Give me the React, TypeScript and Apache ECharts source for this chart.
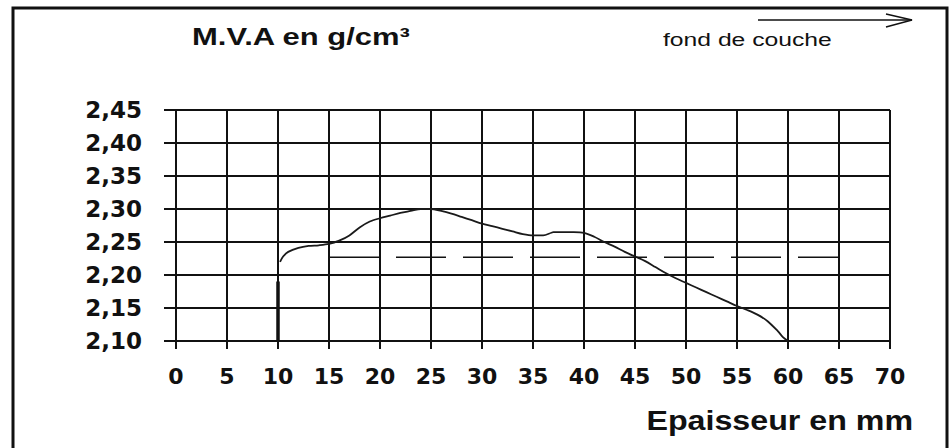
import React, { useEffect, useRef } from "react";
import * as echarts from "echarts";

// Épaisseur (mm) and M.V.A (g/cm3)
const depthMm = [10.2, 10.5, 11, 12, 13, 14, 15, 16, 17, 18, 19, 20, 21, 22, 23, 24, 25, 26, 27, 28, 29, 30, 31, 32, 33, 34, 35, 36, 36.8, 37, 38, 39, 40, 41, 42, 43, 44, 45, 46, 47, 48, 49, 50, 51, 52, 53, 54, 55, 56, 57, 58, 59, 59.5, 60];
const mva = [2.220, 2.228, 2.235, 2.241, 2.244, 2.245, 2.247, 2.252, 2.260, 2.272, 2.281, 2.286, 2.290, 2.294, 2.297, 2.300, 2.300, 2.297, 2.293, 2.288, 2.283, 2.278, 2.274, 2.270, 2.266, 2.262, 2.260, 2.260, 2.264, 2.265, 2.265, 2.265, 2.264, 2.258, 2.250, 2.243, 2.235, 2.228, 2.221, 2.212, 2.203, 2.195, 2.188, 2.181, 2.174, 2.167, 2.160, 2.153, 2.147, 2.140, 2.130, 2.115, 2.106, 2.100];

// vertical start segment at 10 mm
const startX = [10, 10];
const startY = [2.10, 2.19];

// dashed reference level
const refX = [15, 65];
const refY = [2.227, 2.227];

const xMin = 0, xMax = 70, xStep = 5;
const yMin = 2.10, yMax = 2.45, yStep = 0.05;

const titleText = "M.V.A en g/cm³";
const topRightText = "fond de couche";
const xAxisTitle = "Epaisseur en mm";

export default function App() {
  const ref = useRef<HTMLDivElement>(null);
  useEffect(() => {
    if (!ref.current) return;
    const chart = echarts.init(ref.current, null, { renderer: "svg" });
    const ink = "#111";
    chart.setOption({
      animation: false,
      backgroundColor: "#fff",
      grid: { left: 176, right: 61, top: 110, bottom: 107, containLabel: false },
      xAxis: {
        type: "value",
        min: xMin,
        max: xMax,
        interval: xStep,
        axisLine: { show: false },
        axisTick: { show: true, length: 8, lineStyle: { color: ink, width: 2 } },
        axisLabel: {
          margin: 24,
          color: ink,
          fontFamily: "DejaVu Sans",
          fontWeight: "bold",
          fontSize: 22,
        },
        splitLine: { show: true, showMinLine: true, showMaxLine: true, lineStyle: { color: ink, width: 2 } },
      },
      yAxis: {
        type: "value",
        min: yMin,
        max: yMax,
        interval: yStep,
        axisLine: { show: false },
        axisTick: { show: true, length: 12, lineStyle: { color: ink, width: 2 } },
        axisLabel: {
          margin: 34,
          color: ink,
          fontFamily: "DejaVu Sans",
          fontWeight: "bold",
          fontSize: 23,
          formatter: (v: number) => v.toFixed(2).replace(".", ","),
        },
        splitLine: { show: true, showMinLine: true, showMaxLine: true, lineStyle: { color: ink, width: 2 } },
      },
      series: [
        {
          type: "line",
          data: depthMm.map((x, i) => [x, mva[i]]),
          showSymbol: false,
          smooth: 0.3,
          lineStyle: { color: "#1a1a1a", width: 1.8 },
        },
        {
          type: "line",
          data: startX.map((x, i) => [x, startY[i]]),
          showSymbol: false,
          lineStyle: { color: "#111", width: 3.5 },
        },
        {
          type: "line",
          data: refX.map((x, i) => [x, refY[i]]),
          showSymbol: false,
          lineStyle: { color: "#111", width: 1.6, type: [50, 17] },
        },
      ],
      graphic: [
        {
          type: "rect",
          shape: { x: 13, y: 8, width: 934, height: 470 },
          style: { fill: "none", stroke: "#111", lineWidth: 3 },
          silent: true,
        },
        {
          type: "text",
          x: 192,
          y: 37,
          scaleX: 1.29,
          style: {
            text: titleText,
            fill: ink,
            font: "bold 24px 'Liberation Sans', Arial, sans-serif",
            textAlign: "left",
            textVerticalAlign: "middle",
          },
        },
        {
          type: "text",
          x: 663,
          y: 40,
          scaleX: 1.3,
          style: {
            text: topRightText,
            fill: ink,
            font: "19px 'Liberation Sans', Arial, sans-serif",
            textAlign: "left",
            textVerticalAlign: "middle",
          },
        },
        {
          type: "line",
          shape: { x1: 758, y1: 20, x2: 912, y2: 20 },
          style: { stroke: ink, lineWidth: 1.5 },
        },
        {
          type: "polyline",
          shape: { points: [[886, 14], [912, 20], [886, 27]] },
          style: { stroke: ink, lineWidth: 1.5, fill: "none" },
        },
        {
          type: "text",
          x: 913,
          y: 420,
          scaleX: 1.15,
          style: {
            text: xAxisTitle,
            fill: ink,
            font: "bold 28px 'Liberation Sans', Arial, sans-serif",
            textAlign: "right",
            textVerticalAlign: "middle",
          },
        },
      ],
    });
    return () => chart.dispose();
  }, []);
  return (
    <div
      ref={ref}
      style={{ position: "absolute", left: 0, top: 0, width: 951, height: 448 }}
    />
  );
}
